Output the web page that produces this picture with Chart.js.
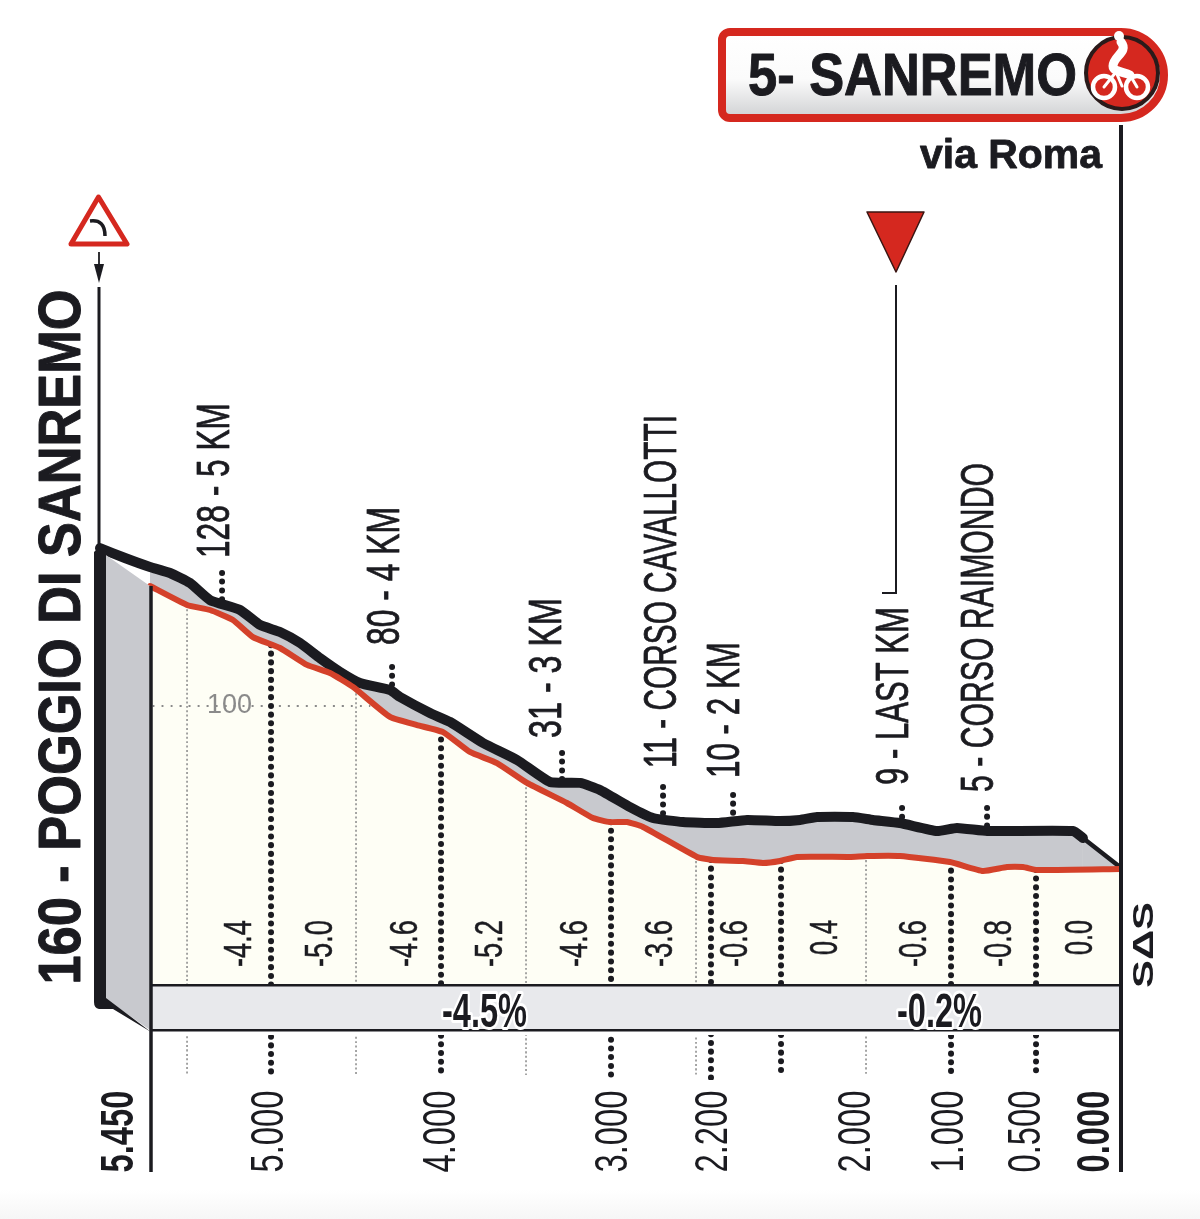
<!DOCTYPE html>
<html>
<head>
<meta charset="utf-8">
<title>5- SANREMO</title>
<style>html,body{margin:0;padding:0;background:#fff}canvas{display:block}</style>
<script src="https://cdn.jsdelivr.net/npm/chart.js@4"></script>
</head>
<body>
<div style="width:1200px;height:1219px"><canvas id="c" width="1200" height="1219"></canvas></div>
<script>
// Back edge of the profile (km to go / height)
const backKm = [6,5.853,5.706,5.588,5.471,5.353,5.176,5.059,4.941,4.824,4.706,4.588,4.471,4.294,4.235,4.059,3.941,3.747,3.547,3.353,3.176,3.059,2.882,2.747,2.571,2.371,2.194,2,1.882,1.782,1.571,1.453,1.294,1.076,0.959,0.782,0.276,0.218,0];
const backHeight = [196.9,190.8,185.3,181.6,175.5,165,158.9,149.7,145.4,138.7,129.4,120.9,114.1,109.8,105.5,95.7,90.2,77.3,66.9,53.4,52.8,48.5,38,31.3,28.8,28.2,30.1,29.4,30.1,31.9,31.9,30.1,28.2,23.3,25.2,23.3,23.3,19,1.2];
// Road line at the front of the profile
const roadKm = [5.706,5.488,5.353,5.218,5.1,4.941,4.782,4.647,4.512,4.294,4.135,3.982,3.824,3.665,3.488,3.253,3.1,3,2.9,2.806,2.488,2.394,2.218,2.1,2,1.9,1.588,1.488,1.294,1,0.806,0.665,0.571,0.488,0];
const roadHeight = [173.6,162,158.9,152.8,142.3,135.6,125.2,120.2,111.7,93.3,88.3,84,71.8,65,52.8,40.5,31.3,28.8,28.8,25.8,7.4,5.5,4.9,3.7,4.9,7.4,7.4,8,8,4.3,-1.2,1.2,1.2,-0.6,0];
// Distance axis
const tickKm = [5.882,5,3.988,2.976,2.388,1.547,1,0.547,0.141];
const tickLabels = ["5.450","5.000","4.000","3.000","2.200","2.000","1.000","0.500","0.000"];
const heightTicks = [100];
// Heavy and light vertical droplines
const majorKm = [4.994,3.994,2.994,2.406,1.994,0.994,0.494];
const majorTop = [137.4,84.7,28.8,5.5,4.9,4.3,-0.6];
const minorKm = [5.488,4.494,3.494,2.494,1.494];
const minorTop = [162,110.4,52.8,7.4,8];
// Named places: stub position, stub top, stub foot
const placeKm = [5.282,4.282,3.282,2.688,2.276,1.282,0.782];
const placeTop = [181.6,123.9,71.2,50.3,45.4,37.4,37.4];
const placeFoot = [163.2,111,53.4,31.3,30,28.8,23.9];
const placeLabels = ["128 - 5 KM","80 - 4 KM","31 - 3 KM","11 - CORSO CAVALLOTTI","10 - 2 KM","9 - LAST KM","5 - CORSO RAIMONDO"];
// Gradient of each half kilometre
const gradientLabels = ["-4.4","-5.0","-4.6","-5.2","-4.6","-3.6","-0.6","0.4","-0.6","-0.8","0.0"];
const averageLabels = ["-4.5%","-0.2%"];
const titleLabel = "5- SANREMO";
const subLabel = "via Roma";
const startLabel = "160 - POGGIO DI SANREMO";
const brandLabel = "SΔS";

const pts = (xs, ys) => xs.map((x, i) => ({x, y: ys[i]}));
const BLACK = '#1b1b20', RED = '#d4412a', SIGN = '#d5281f';
const NARROW = '"Liberation Sans Narrow","Liberation Sans",sans-serif';
const WIDE = '"Liberation Sans",sans-serif';
const PX_KM = 170, PX_M = 1.63, BOTTOM = 1080;
const bandFloor = (869 - 985) / PX_M;

function fit(ctx, text, cx, cy, len, cap, weight, family, rot, color, stroke) {
  ctx.save();
  ctx.font = `${weight} ${cap / 0.72}px ${family}`;
  const w = ctx.measureText(text).width;
  ctx.translate(cx, cy); ctx.rotate(rot); ctx.scale(len / w, 1);
  ctx.textAlign = 'center'; ctx.textBaseline = 'alphabetic';
  ctx.fillStyle = color;
  ctx.fillText(text, 0, cap / 2);
  if (stroke) { ctx.strokeStyle = color; ctx.lineWidth = stroke; ctx.lineJoin = 'round'; ctx.strokeText(text, 0, cap / 2); }
  ctx.restore();
}
const UP = -Math.PI / 2;

const layers = {
  id: 'layers',
  beforeDraw(chart) {
    const c = chart.ctx;
    const g = c.createLinearGradient(0, 1190, 0, 1219);
    g.addColorStop(0, '#ffffff'); g.addColorStop(1, '#f6f6f6');
    c.fillStyle = g; c.fillRect(0, 1190, 1200, 29);
  },
  afterDatasetsDraw(chart) {
    const c = chart.ctx;
    c.save();
    // gradient band
    c.fillStyle = '#fff'; c.fillRect(150, 1030, 970, 5);
    c.fillStyle = '#e8e9ec'; c.fillRect(150, 985, 970, 45);
    c.fillStyle = BLACK;
    c.fillRect(150, 984, 970, 2.5); c.fillRect(150, 1029, 970, 2.5);
    // side wall
    c.fillStyle = '#c8c9ce';
    c.beginPath(); c.moveTo(103, 553); c.lineTo(150, 586); c.lineTo(150, 1030); c.lineTo(103, 997); c.closePath(); c.fill();
    c.fillStyle = BLACK;
    c.beginPath(); c.moveTo(94, 552); c.lineTo(101, 545); c.lineTo(106, 552); c.lineTo(106, 998); c.lineTo(151, 1032);
    c.lineTo(113, 1009); c.lineTo(99, 1009); c.quadraticCurveTo(94, 1008, 94, 1002); c.closePath(); c.fill();
    // verticals
    c.strokeStyle = BLACK; c.lineWidth = 3;
    const vline = (x, y1, y2, w) => { c.lineWidth = w; c.beginPath(); c.moveTo(x, y1); c.lineTo(x, y2); c.stroke(); };
    vline(151, 586, 1172, 3.5);
    vline(1121, 125, 1172, 4);
    vline(99, 287, 548, 3);
    vline(99, 252, 272, 1.8);
    c.fillStyle = BLACK;
    c.beginPath(); c.moveTo(94, 264); c.lineTo(104, 264); c.lineTo(99, 283); c.closePath(); c.fill();
    // warning triangle
    c.lineJoin = 'round'; c.strokeStyle = SIGN; c.lineWidth = 5; c.fillStyle = '#fff';
    c.beginPath(); c.moveTo(98.5, 197); c.lineTo(127, 244); c.lineTo(71, 244); c.closePath(); c.fill(); c.stroke();
    c.strokeStyle = BLACK; c.lineWidth = 3.5;
    c.beginPath(); c.moveTo(90, 221); c.quadraticCurveTo(105, 219, 105, 236); c.stroke();
    // last-km flag
    c.fillStyle = SIGN; c.strokeStyle = '#3a1512'; c.lineWidth = 1.5;
    c.beginPath(); c.moveTo(867, 212); c.lineTo(924, 212); c.lineTo(896, 272); c.closePath(); c.fill(); c.stroke();
    c.strokeStyle = BLACK;
    vline(896, 285, 594, 2);
    c.lineWidth = 2; c.beginPath(); c.moveTo(882, 593); c.lineTo(897, 593); c.stroke();
    // finish sign
    c.lineJoin = 'miter';
    const g = c.createLinearGradient(0, 36, 0, 114);
    g.addColorStop(0, '#ffffff'); g.addColorStop(0.55, '#fbfbfb'); g.addColorStop(1, '#d4d5d7');
    c.fillStyle = g; c.strokeStyle = SIGN; c.lineWidth = 8;
    c.beginPath(); c.roundRect(722, 32, 442, 86, [8, 43, 43, 8]); c.fill(); c.stroke();
    fit(c, titleLabel, 912.5, 74, 329, 42, 'bold', WIDE, 0, BLACK, 1);
    fit(c, subLabel, 1011, 153, 182, 29, 'bold', WIDE, 0, BLACK, 0.8);
    // finish roundel with rider
    c.fillStyle = SIGN; c.strokeStyle = '#2a1a1a'; c.lineWidth = 4;
    c.beginPath(); c.arc(1122, 73, 36, 0, Math.PI * 2); c.fill(); c.stroke();
    c.strokeStyle = '#fff'; c.lineWidth = 4.5;
    c.beginPath(); c.arc(1104, 87, 11, 0, Math.PI * 2); c.stroke();
    c.beginPath(); c.arc(1137, 87, 11, 0, Math.PI * 2); c.stroke();
    c.lineCap = 'round'; c.lineWidth = 9;
    c.beginPath(); c.moveTo(1121, 42); c.bezierCurveTo(1129, 52, 1113, 56, 1113, 66); c.bezierCurveTo(1113, 72, 1125, 72, 1130, 75); c.stroke();
    c.lineWidth = 3;
    c.beginPath(); c.moveTo(1104, 87); c.lineTo(1116, 72); c.lineTo(1122, 86); c.moveTo(1130, 75); c.lineTo(1137, 87); c.stroke();
    c.fillStyle = '#fff';
    c.beginPath(); c.arc(1119, 36, 5, 0, Math.PI * 2); c.fill();
    c.lineCap = 'butt';
    // rotated labels
    fit(c, startLabel, 59, 637, 695, 42, 'bold', WIDE, UP, BLACK, 1);
    const labelBox = [[212,403,558],[382,507,645],[544,598,738],[659,415,768],[722,642,778],[891,607,785],[976,463,792]];
    placeLabels.forEach((t, i) => {
      const [cx, a, b] = labelBox[i];
      fit(c, t, cx, (a + b) / 2, b - a, 33, 'normal', NARROW, UP, BLACK, 0.8);
    });
    const gradBox = [237,318,403,488,573,658,733,823,912,997,1078];
    gradientLabels.forEach((t, i) => {
      const neg = t[0] === '-';
      fit(c, t, gradBox[i], neg ? 943.5 : 937.5, neg ? 47 : 35, 28, 'normal', NARROW, UP, BLACK, 0.5);
    });
    // average gradients
    [[484.5], [939.5]].forEach(([cx], i) => {
      c.save();
      c.font = `bold ${34 / 0.72}px ${NARROW}`;
      const w = c.measureText(averageLabels[i]).width;
      c.translate(cx, 1010); c.scale(85 / w, 1);
      c.textAlign = 'center'; c.textBaseline = 'alphabetic';
      c.lineJoin = 'round'; c.strokeStyle = '#fff'; c.lineWidth = 6;
      c.strokeText(averageLabels[i], 0, 17);
      c.fillStyle = BLACK; c.fillText(averageLabels[i], 0, 17);
      c.restore();
    });
    fit(c, brandLabel, 1142.5, 945, 86, 21, 'bold', WIDE, UP, BLACK);
    c.restore();
  }
};

const cream = {label: 'ground', data: pts(roadKm, roadHeight), borderWidth: 0, pointRadius: 0, order: 20,
  backgroundColor: '#fefef5', fill: {value: bandFloor}};
const back = {label: 'back', data: pts(backKm, backHeight), borderColor: BLACK, borderWidth: 10, pointRadius: 0, order: 3,
  borderJoinStyle: 'round', borderCapStyle: 'round', backgroundColor: '#c8c9ce', fill: 2,
  segment: {borderWidth: s => s.p0.parsed.x < 0.25 ? 4.5 : 10}};
const road = {label: 'road', data: pts(roadKm, roadHeight), borderColor: RED, borderWidth: 6, pointRadius: 0, order: 1,
  borderJoinStyle: 'round', borderCapStyle: 'round', fill: false};
const refLine = {label: '100', data: pts([5.69, 4.41], [100, 100]), borderColor: '#8a8a8a', borderWidth: 1.8,
  borderDash: [2, 7], pointRadius: 0, order: 10, fill: false};

const floorValue = (869 - 1078) / PX_M;
const minorFloor = (869 - 1075) / PX_M;
const dots = (x, a, b) => ({data: [{x, y: a}, {x, y: b}], borderColor: BLACK, borderWidth: 6, borderCapStyle: 'round',
  borderDash: [0.1, 8.6], pointRadius: 0, order: 8, fill: false});
const thin = (x, a, b) => ({data: [{x, y: a}, {x, y: b}], borderColor: '#8f8f8f', borderWidth: 1.6,
  borderDash: [2, 2.4], pointRadius: 0, order: 9, fill: false});

const datasets = [cream, back, road, refLine,
  ...majorKm.map((x, i) => dots(x, majorTop[i], floorValue)),
  ...minorKm.map((x, i) => thin(x, minorTop[i], minorFloor)),
  ...placeKm.map((x, i) => dots(x, placeTop[i], placeFoot[i]))];

// The distance labels are a very condensed face: squeeze the axis labels along their length.
function condenseLabels(s) {
  if (s._condensed) return;
  s._condensed = true;
  const draw = s.drawLabels;
  s.drawLabels = function (area) {
    const c = s.ctx;
    c.save();
    c.translate(0, 1090); c.scale(1, 0.71); c.translate(0, -1090);
    draw.call(s, area);
    c.restore();
  };
}

new Chart(document.getElementById('c'), {
  type: 'line',
  data: {datasets},
  plugins: [layers],
  options: {
    responsive: false, animation: false, parsing: false, normalized: false,
    elements: {line: {tension: 0.15}},
    layout: {padding: 0},
    plugins: {legend: {display: false}, tooltip: {enabled: false}},
    scales: {
      x: {
        type: 'linear', reverse: true,
        min: (1120 - 1200) / PX_KM, max: 1120 / PX_KM,
        grid: {display: false}, border: {display: false},
        afterBuildTicks: s => { s.ticks = tickKm.map(value => ({value})); },
        afterFit: s => { s.height = 1219 - BOTTOM; s.paddingLeft = 0; s.paddingRight = 0; s.paddingTop = 0; s.paddingBottom = 0; condenseLabels(s); },
        ticks: {
          autoSkip: false, maxRotation: 90, minRotation: 90, padding: 3, color: BLACK,
          callback: (v, i) => tickLabels[i],
          font: c => ({family: NARROW, size: 46, weight: (c.index === 0 || c.index === tickKm.length - 1) ? 'bold' : 'normal'})
        }
      },
      y: {
        type: 'linear',
        min: (869 - BOTTOM) / PX_M, max: 869 / PX_M,
        grid: {display: false}, border: {display: false},
        afterBuildTicks: s => { s.ticks = heightTicks.map(value => ({value})); },
        afterFit: s => { s.width = 0; s.paddingTop = 0; s.paddingBottom = 0; s.paddingLeft = 0; s.paddingRight = 0; },
        ticks: {z: 1, mirror: true, padding: 207, color: '#8a8a8a', font: {family: NARROW, size: 27}, callback: v => String(v)}
      }
    }
  }
});
</script>
</body>
</html>
